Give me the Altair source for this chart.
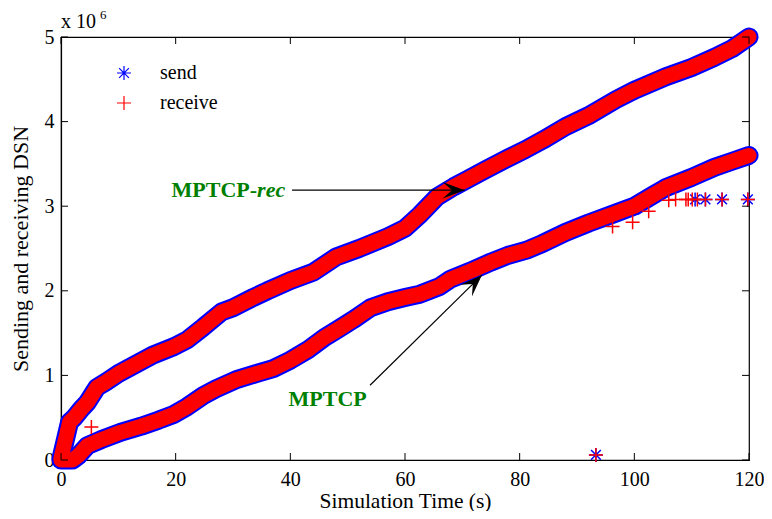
import altair as alt
import pandas as pd

# ---- data (DSN in units of 1e6) ----
rec_t = [0, 0.8, 1.5, 2.3, 3.5, 4.6, 6.3, 8, 10, 13, 16, 19.7, 22, 24.8, 28, 30, 33.5, 36, 40,
         44, 48, 52, 57, 60, 62.6, 65.6, 68.5, 71, 74, 78, 81, 84, 88, 92, 96.8, 100, 105.5,
         110, 114, 117, 120]
rec_v = [0.02, 0.25, 0.45, 0.50, 0.60, 0.68, 0.86, 0.93, 1.02, 1.13, 1.24, 1.34, 1.42, 1.57,
         1.75, 1.80, 1.92, 2.00, 2.12, 2.22, 2.40, 2.50, 2.64, 2.74, 2.90, 3.11, 3.23, 3.32,
         3.43, 3.57, 3.67, 3.78, 3.94, 4.07, 4.26, 4.37, 4.53, 4.64, 4.76, 4.86, 5.00]

mp_t = [0, 2, 3, 4.6, 7, 10.5, 14, 17, 19.7, 22, 24.8, 27, 30.6, 34, 37, 40, 43, 46, 48.2,
        51, 54, 57, 60, 62.6, 66, 68, 71.3, 75, 78, 81.2, 84, 88, 92, 96.8, 100, 103, 105.5,
        110, 114, 117, 120]
mp_v = [0.0, 0.0, 0.05, 0.17, 0.24, 0.33, 0.40, 0.47, 0.54, 0.63, 0.76, 0.84, 0.95, 1.02,
        1.08, 1.18, 1.30, 1.45, 1.54, 1.66, 1.80, 1.87, 1.92, 1.96, 2.05, 2.14, 2.23, 2.34,
        2.42, 2.48, 2.56, 2.69, 2.80, 2.92, 3.00, 3.12, 3.22, 3.34, 3.46, 3.53, 3.60]

# scattered (out of band) packets
send_out_t = [93.3, 110.6, 112.4, 115.3, 119.8]
send_out_v = [0.06, 3.08, 3.08, 3.08, 3.08]
recv_out_t = [93.3, 5.3, 96.2, 99.7, 102.5, 106.0, 107.2, 109.0, 109.4, 110.1, 111.0, 112.4,
              115.3, 119.8]
recv_out_v = [0.06, 0.39, 2.76, 2.81, 2.94, 3.07, 3.08, 3.08, 3.08, 3.08, 3.08, 3.08, 3.08,
              3.08]

x_ticks = [0, 20, 40, 60, 80, 100, 120]
y_ticks = [0, 1, 2, 3, 4, 5]

W, H = 688, 423
FONT = "Liberation Serif"
GREEN = "#008000"
ASTER = "M-1,0L1,0M0,-1L0,1M-0.7,-0.7L0.7,0.7M-0.7,0.7L0.7,-0.7"
PLUS = "M-1,0L1,0M0,-1L0,1"
ARROW = "M0,0L-2,-0.75L-1.15,0L-2,0.75Z"

xs = alt.Scale(domain=[0, 120], nice=False, zero=False)
ys = alt.Scale(domain=[0, 5], nice=False, zero=False)

curves = pd.DataFrame(
    [{"t": t, "v": v, "curve": "rec"} for t, v in zip(rec_t, rec_v)]
    + [{"t": t, "v": v, "curve": "mp"} for t, v in zip(mp_t, mp_v)]
)

X = alt.X("t:Q", scale=xs,
          axis=alt.Axis(values=x_ticks, title="Simulation Time (s)", format="d",
                        labelFlush=False, titleBaseline="alphabetic", titleY=47,
                        titleFontSize=21.5))
Y = alt.Y("v:Q", scale=ys,
          axis=alt.Axis(values=y_ticks, title="Sending and receiving DSN", format="d",
                        labelFlush=False, titleFontSize=22))

base = alt.Chart(curves)
band_blue = base.mark_line(color="#0000ff", strokeWidth=19, strokeCap="round",
                           strokeJoin="round").encode(x=X, y=Y, detail="curve:N")
band_red = base.mark_line(color="#ff0000", strokeWidth=15, strokeCap="round",
                          strokeJoin="round").encode(x="t:Q", y="v:Q", detail="curve:N")

leg = alt.Legend(title=None, orient="none", legendX=53, legendY=26,
                 labelFont=FONT, labelFontSize=20, labelColor="black",
                 symbolSize=196, symbolStrokeWidth=1.2, labelOffset=26,
                 rowPadding=10, padding=0)
pts = pd.DataFrame(
    [{"t": t, "v": v, "s": "send"} for t, v in zip(send_out_t, send_out_v)]
    + [{"t": t, "v": v, "s": "receive"} for t, v in zip(recv_out_t, recv_out_v)]
)
scatter = alt.Chart(pts).mark_point(filled=False, size=196, strokeWidth=1.5, opacity=1).encode(
    x="t:Q", y="v:Q",
    color=alt.Color("s:N", scale=alt.Scale(domain=["send", "receive"], range=["#0000ff", "#ff0000"]),
                    legend=leg),
    shape=alt.Shape("s:N", scale=alt.Scale(domain=["send", "receive"], range=[ASTER, PLUS]),
                    legend=leg),
    order=alt.Order("s:N", sort="descending"),
)

# inward ticks on all four sides
xt = pd.DataFrame({"t": x_ticks})
yt = pd.DataFrame({"v": y_ticks})
tick_b = alt.Chart(xt).mark_rule(color="black").encode(x="t:Q", y=alt.value(H), y2=alt.value(H - 7))
tick_t = alt.Chart(xt).mark_rule(color="black").encode(x="t:Q", y=alt.value(0), y2=alt.value(7))
tick_l = alt.Chart(yt).mark_rule(color="black").encode(y="v:Q", x=alt.value(0), x2=alt.value(7))
tick_r = alt.Chart(yt).mark_rule(color="black").encode(y="v:Q", x=alt.value(W), x2=alt.value(W - 7))

# annotations
arrows = pd.DataFrame({"t": [40.3, 53.9], "v": [3.19, 0.884], "t2": [70.4, 73.4], "v2": [3.19, 2.185]})
arrow_lines = alt.Chart(arrows).mark_rule(color="black", strokeWidth=1.2).encode(
    x="t:Q", y="v:Q", x2="t2:Q", y2="v2:Q")
head1 = alt.Chart(arrows.iloc[[0]]).mark_point(shape=ARROW, filled=True, color="black",
                                               size=484, opacity=1, angle=0).encode(x="t2:Q", y="v2:Q")
head2 = alt.Chart(arrows.iloc[[1]]).mark_point(shape=ARROW, filled=True, color="black",
                                               size=484, opacity=1, angle=315.5).encode(x="t2:Q", y="v2:Q")

lab = pd.DataFrame({"t": [34.2, 34.2, 46.5], "v": [3.11, 3.11, 0.64],
                    "txt": ["MPTCP-", "rec", "MPTCP"]})
txt1 = alt.Chart(lab.iloc[[0]]).mark_text(font=FONT, fontSize=22, fontWeight="bold", color=GREEN,
                                          align="right", baseline="alphabetic").encode(
    x="t:Q", y="v:Q", text="txt:N")
txt2 = alt.Chart(lab.iloc[[1]]).mark_text(font=FONT, fontSize=22, fontWeight="bold", fontStyle="italic",
                                          color=GREEN, align="left", baseline="alphabetic").encode(
    x="t:Q", y="v:Q", text="txt:N")
txt3 = alt.Chart(lab.iloc[[2]]).mark_text(font=FONT, fontSize=22, fontWeight="bold", color=GREEN,
                                          align="center", baseline="alphabetic").encode(
    x="t:Q", y="v:Q", text="txt:N")

mult = pd.DataFrame({"txt": ["x 10"], "sup": ["6"]})
mult1 = alt.Chart(mult).mark_text(font=FONT, fontSize=20, color="black", align="left",
                                  baseline="alphabetic").encode(
    x=alt.value(0), y=alt.value(-9), text="txt:N")
mult2 = alt.Chart(mult).mark_text(font=FONT, fontSize=13, color="black", align="left",
                                  baseline="alphabetic").encode(
    x=alt.value(39), y=alt.value(-18), text="sup:N")

chart = alt.layer(
    band_blue, band_red, scatter, tick_b, tick_t, tick_l, tick_r,
    arrow_lines, head1, head2, txt1, txt2, txt3, mult1, mult2,
).properties(
    width=W, height=H, autosize=alt.AutoSizeParams(type="none"),
    padding={"left": 53, "top": 29, "right": 15, "bottom": 51},
).configure_view(
    stroke="black", strokeWidth=1.2
).configure_axis(
    labelFont=FONT, labelFontSize=20, labelColor="black", titleFont=FONT, titleFontSize=20,
    titleFontWeight="normal", titleColor="black", domainColor="black", domainWidth=1.2,
    ticks=False, grid=False, labelPadding=7, titlePadding=12,
).configure_axisX(labelPadding=9)

chart.save("out.html", embed_options={"renderer": "svg", "actions": False})
